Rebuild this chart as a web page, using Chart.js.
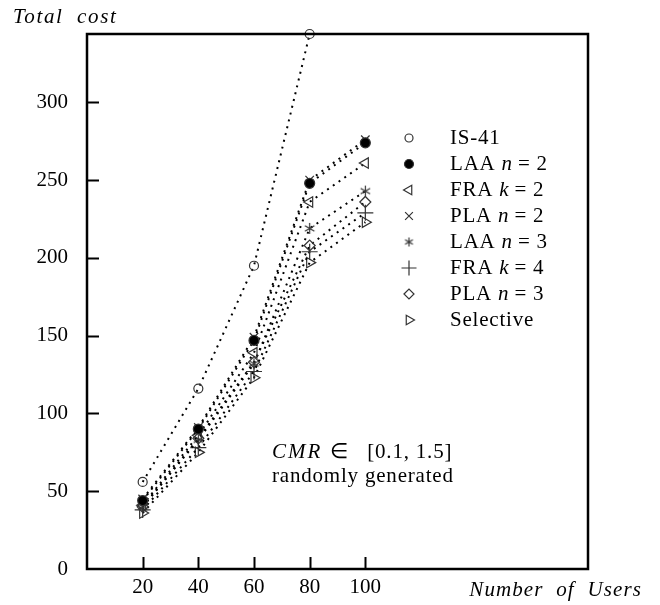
<!DOCTYPE html>
<html>
<head>
<meta charset="utf-8">
<script src="https://cdn.jsdelivr.net/npm/chart.js@4.4.0/dist/chart.umd.min.js"></script>
<style>
  html, body { margin: 0; padding: 0; background: #fff; }
</style>
</head>
<body>
<canvas id="costChart" width="660" height="605"></canvas>
<script>
// Number of users on the x axis
const users = [20, 40, 60, 80, 100];
const xTicks = [20, 40, 60, 80, 100];
const yTicks = [0, 50, 100, 150, 200, 250, 300];

// Total cost for each scheme
const is41 = [56, 116, 195, 344];
const laa2 = [44, 90, 147, 248, 274];
const fra2 = [41, 86, 139, 236, 261];
const pla2 = [45, 91, 149, 250, 276];
const laa3 = [40, 83, 132, 219, 243];
const fra4 = [38, 78, 127, 204, 229];
const pla3 = [40, 84, 133, 208, 236];
const selective = [36, 75, 123, 197, 223];

const seriesNames = ['IS-41', 'LAA n = 2', 'FRA k = 2', 'PLA n = 2', 'LAA n = 3', 'FRA k = 4', 'PLA n = 3', 'Selective'];
const seriesValues = [is41, laa2, fra2, pla2, laa3, fra4, pla3, selective];

// six armed asterisk, chart.js only has an eight armed star
function makeAsterisk(size) {
    const c = document.createElement('canvas');
    c.width = size;
    c.height = size;
    const g = c.getContext('2d');
    const r = size / 2 - 1;
    g.strokeStyle = '#333';
    g.lineWidth = 1.2;
    g.beginPath();
    [90, 30, -30].forEach(a => {
        const rad = a * Math.PI / 180;
        g.moveTo(size / 2 - r * Math.cos(rad), size / 2 - r * Math.sin(rad));
        g.lineTo(size / 2 + r * Math.cos(rad), size / 2 + r * Math.sin(rad));
    });
    g.stroke();
    return c;
}
const asterisk = makeAsterisk(13);
const asteriskSmall = makeAsterisk(11);

// marker look for each series
const markers = [
    { pointStyle: 'circle', radius: 4.5, rotation: 0, fill: false },
    { pointStyle: 'circle', radius: 5, rotation: 0, fill: true },
    { pointStyle: 'triangle', radius: 6, rotation: -90, fill: false },
    { pointStyle: 'crossRot', radius: 6, rotation: 0, fill: false },
    { pointStyle: asterisk, radius: 6, rotation: 0, fill: false },
    { pointStyle: 'cross', radius: 8, rotation: 0, fill: false },
    { pointStyle: 'rectRot', radius: 5.5, rotation: 0, fill: false },
    { pointStyle: 'triangle', radius: 6, rotation: 90, fill: false }
];

const serif = "'Liberation Serif', 'Times New Roman', serif";

const datasets = seriesNames.map((name, i) => ({
    label: name,
    data: seriesValues[i].map((v, j) => ({ x: users[j], y: v })),
    showLine: true,
    borderColor: '#000',
    borderWidth: 2,
    borderDash: [2, 5],
    pointStyle: markers[i].pointStyle,
    pointRadius: markers[i].radius,
    pointRotation: markers[i].rotation,
    pointBorderColor: '#333',
    pointBorderWidth: 1.2,
    pointBackgroundColor: markers[i].fill ? '#000' : 'rgba(0,0,0,0)',
    clip: false
}));

// draws the box, inward ticks, legend and the text labels
const framePlugin = {
    id: 'frame',
    afterDatasetsDraw(chart) {
        const ctx = chart.ctx;
        const area = chart.chartArea;
        const xs = chart.scales.x;
        const ys = chart.scales.y;
        ctx.save();

        // box
        ctx.strokeStyle = '#000';
        ctx.lineWidth = 2.5;
        ctx.strokeRect(area.left, area.top, area.right - area.left, area.bottom - area.top);

        // inward ticks
        ctx.lineWidth = 2;
        ctx.beginPath();
        xTicks.forEach(v => {
            const px = Math.round(xs.getPixelForValue(v)) + 0.5;
            ctx.moveTo(px, area.bottom);
            ctx.lineTo(px, area.bottom - 12);
        });
        yTicks.forEach(v => {
            if (v === 0) return;
            const py = Math.round(ys.getPixelForValue(v)) + 0.5;
            ctx.moveTo(area.left, py);
            ctx.lineTo(area.left + 12, py);
        });
        ctx.stroke();

        // legend
        ctx.textBaseline = 'middle';
        ctx.textAlign = 'left';
        ctx.letterSpacing = '0.8px';
        chart.data.datasets.forEach((ds, i) => {
            const y = 138 + i * 26;
            ctx.strokeStyle = '#333';
            ctx.fillStyle = markers[i].fill ? '#000' : 'rgba(0,0,0,0)';
            ctx.lineWidth = 1.2;
            Chart.helpers.drawPoint(ctx, {
                pointStyle: markers[i].pointStyle === asterisk ? asteriskSmall : markers[i].pointStyle,
                radius: markers[i].radius - 0.5,
                rotation: markers[i].rotation,
                borderWidth: 1.2
            }, 409, y);

            ctx.fillStyle = '#000';
            const m = ds.label.match(/^(\S+) ([nk]) = (\d)$/);
            let x = 450;
            if (m) {
                ctx.font = '21px ' + serif;
                ctx.fillText(m[1] + ' ', x, y);
                x += ctx.measureText(m[1] + ' ').width;
                ctx.font = 'italic 21px ' + serif;
                ctx.fillText(m[2], x, y);
                x += ctx.measureText(m[2]).width + 5;
                ctx.font = '21px ' + serif;
                ctx.fillText('= ' + m[3], x, y);
            } else {
                ctx.font = '21px ' + serif;
                ctx.fillText(ds.label, x, y);
            }
        });

        // axis titles
        ctx.letterSpacing = '1.6px';
        ctx.font = 'italic 21px ' + serif;
        ctx.fillText('Total  cost', 13, 17);
        ctx.textAlign = 'right';
        ctx.letterSpacing = '1.1px';
        ctx.fillText('Number  of  Users', 642, 590);

        // note
        ctx.textAlign = 'left';
        let x = 272;
        ctx.letterSpacing = '2px';
        ctx.fillText('CMR', x, 452);
        x += ctx.measureText('CMR').width + 8;
        ctx.letterSpacing = '0.8px';
        ctx.font = '21px ' + serif;
        ctx.fillText('\u2208   [0.1, 1.5]', x, 452);
        ctx.fillText('randomly generated', 272, 476);

        ctx.restore();
    }
};

new Chart(document.getElementById('costChart'), {
    type: 'scatter',
    data: { datasets: datasets },
    options: {
        responsive: false,
        animation: false,
        layout: { padding: { top: 34, right: 72, left: 0, bottom: 0 } },
        plugins: {
            legend: { display: false },
            tooltip: { enabled: false }
        },
        scales: {
            x: {
                type: 'linear',
                min: 0,
                max: 180,
                grid: { display: false },
                border: { display: false },
                afterBuildTicks: s => { s.ticks = xTicks.map(v => ({ value: v })); },
                afterFit: s => { s.height = 36; },
                ticks: { color: '#000', padding: -2, font: { family: serif, size: 21 } }
            },
            y: {
                type: 'linear',
                min: 0,
                max: 344,
                grid: { display: false },
                border: { display: false },
                afterBuildTicks: s => { s.ticks = yTicks.map(v => ({ value: v })); },
                afterFit: s => { s.width = 87; },
                ticks: { color: '#000', padding: 11, font: { family: serif, size: 21 } }
            }
        }
    },
    plugins: [framePlugin]
});
</script>
</body>
</html>
